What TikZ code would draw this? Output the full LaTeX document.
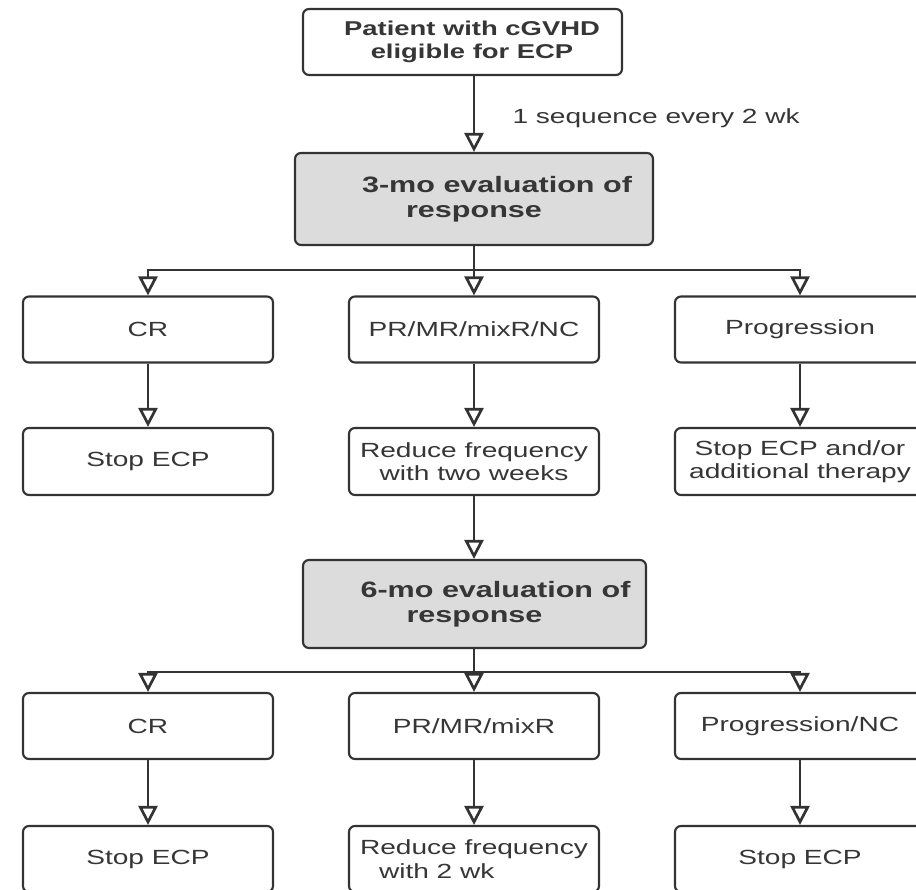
\documentclass[tikz,border=0pt]{standalone}
\usepackage{fontspec}
\setmainfont{Liberation Sans}[FakeStretch=1.37]
\usetikzlibrary{arrows.meta}
\definecolor{ln}{HTML}{333333}
\definecolor{tx}{HTML}{363636}
\definecolor{gf}{HTML}{DCDCDC}
\begin{document}
\begin{tikzpicture}[x=1pt,y=-1pt,
  font=\fontsize{20.5}{23.5}\selectfont,
  rbox/.style={draw=ln, line width=2.1pt, rounded corners=6pt, text=tx, align=center, inner sep=0pt, fill=white},
  rowbox/.style={rbox, minimum width=250pt, minimum height=66pt},
  evalbox/.style={rbox, fill=gf, font=\fontsize{22.3}{25.5}\selectfont\bfseries},
  conn/.style={draw=ln, line width=2.7pt},
  arr/.style={conn, -{Triangle[open,length=19pt,width=19pt]}}
]
\useasboundingbox (0,0) rectangle (916,890);
\clip (0,0) rectangle (916,890);
\fill[white] (0,0) rectangle (916,890);

% nodes
\node[rbox, minimum width=319pt, minimum height=66pt, font=\fontsize{20}{22.5}\selectfont\bfseries] (top) at (462.5,42)
  {\hspace*{19pt}Patient with cGVHD\\\hspace*{19pt}eligible for ECP};
\node[anchor=west, text=tx] (lab) at (509,118) {1 sequence every 2 wk};
\node[evalbox, minimum width=358pt, minimum height=92pt] (ev3) at (474,199)
  {\hspace*{46pt}3-mo evaluation of\\response};

\node[rowbox] (cr1) at (148,329.5) {CR};
\node[rowbox] (pr1) at (474,329.5) {PR/MR/mixR/NC};
\node[rowbox] (pg1) at (800,329.5) {Progression};

\node[rowbox, minimum height=67pt] (st1) at (148,461.5) {Stop ECP};
\node[rowbox, minimum height=67pt] (rd1) at (474,461.5) {Reduce frequency\\with two weeks};
\node[rowbox, minimum height=67pt] (sa1) at (800,461.5) {Stop ECP and/or\\additional therapy};

\node[evalbox, minimum width=343pt, minimum height=88pt] (ev6) at (474.5,604)
  {\hspace*{42pt}6-mo evaluation of\\response};

\node[rowbox] (cr2) at (148,726) {CR};
\node[rowbox] (pr2) at (474,726) {PR/MR/mixR};
\node[rowbox] (pg2) at (800,726) {Progression/NC};

\node[rowbox] (st2) at (148,859) {Stop ECP};
\node[rowbox, align=left] (rd2) at (474,859) {Reduce frequency\\\hspace*{19pt}with 2 wk};
\node[rowbox] (st3) at (800,859) {Stop ECP};

% connectors
\coordinate (sp) at (474,0);
\coordinate (j1) at (474,270);
\coordinate (j2) at (474,672);

\draw[arr] (top.south -| sp) -- (ev3.north -| sp);
\draw[conn] (ev3.south -| sp) -- (j1);
\draw[arr] (j1) -- (pr1.north);
\draw[arr] (j1) -| (cr1.north);
\draw[arr] (j1) -| (pg1.north);
\draw[arr] (cr1.south) -- (st1.north);
\draw[arr] (pr1.south) -- (rd1.north);
\draw[arr] (pg1.south) -- (sa1.north);
\draw[arr] (rd1.south) -- (ev6.north -| rd1.south);
\draw[conn] (ev6.south -| sp) -- (j2);
\draw[arr] (j2) -- (pr2.north);
\draw[arr] (j2) -| (cr2.north);
\draw[arr] (j2) -| (pg2.north);
\draw[arr] (cr2.south) -- (st2.north);
\draw[arr] (pr2.south) -- (rd2.north);
\draw[arr] (pg2.south) -- (st3.north);
\end{tikzpicture}
\end{document}
